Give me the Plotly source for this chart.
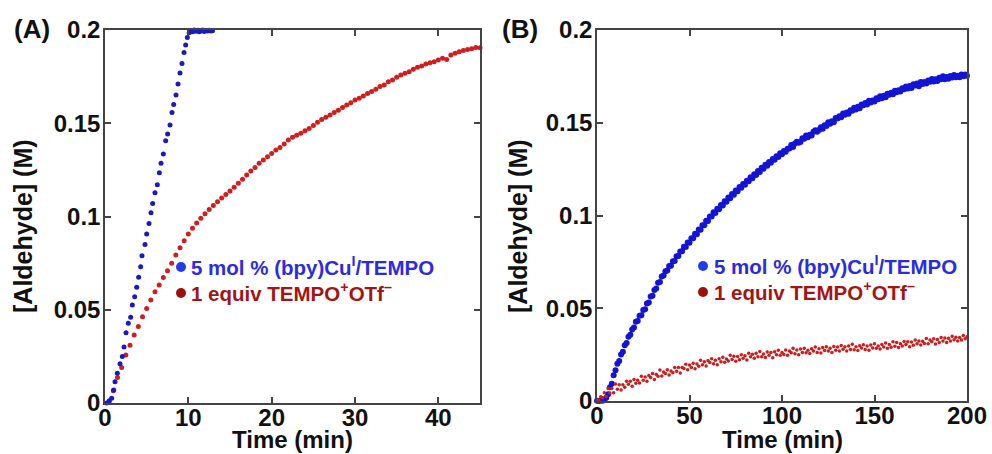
import plotly.graph_objects as go

# ---------------- data ----------------
# Panel A: aldehyde formation, first 45 min
TIME_A_CU = [0.2, 0.5, 0.8, 1.04, 1.2, 1.48, 1.8, 2.08, 2.28, 2.52, 2.8, 3.08, 3.28, 3.56, 3.8,
             4.04, 4.28, 4.44, 4.8, 5.0, 5.28, 5.52, 5.72, 6.0, 6.28, 6.52, 6.72, 7.0, 7.28,
             7.52, 7.8, 8.04, 8.24, 8.52, 8.76, 9.0, 9.24, 9.48, 9.68, 9.88, 10.1, 10.3, 10.5,
             10.7, 10.9, 11.1, 11.3, 11.5, 11.7, 11.9, 12.1, 12.3, 12.5, 12.7, 12.9]
ALD_A_CU = [0.0, 0.0012, 0.0025, 0.0070, 0.0114, 0.0160, 0.0210, 0.0250, 0.0300, 0.0377,
            0.0427, 0.0460, 0.0525, 0.0570, 0.0620, 0.0674, 0.0730, 0.0790, 0.0850, 0.0906,
            0.0963, 0.1020, 0.1070, 0.1128, 0.1170, 0.1235, 0.1285, 0.1335, 0.1406, 0.1442,
            0.1490, 0.1557, 0.1600, 0.1652, 0.1710, 0.1770, 0.1820, 0.1880, 0.1920, 0.1960,
            0.1985, 0.1995, 0.1990, 0.2000, 0.1993, 0.1998, 0.1990, 0.1995, 0.2000, 0.1992,
            0.1997, 0.1994, 0.1999, 0.1995, 0.1996]

TIME_A_OX = [0.5, 1.0, 1.5, 2.0, 2.5, 3.0, 3.5, 4.0, 4.5, 5.0, 5.5, 6.0, 6.5, 7.0, 7.5, 8.0,
             8.5, 9.0, 9.5, 10.0, 10.5, 11.0, 11.5, 12.0, 12.5, 13.0, 13.5, 14.0, 14.5, 15.0,
             15.5, 16.0, 16.5, 17.0, 17.5, 18.0, 18.5, 19.0, 19.5, 20.0, 20.5, 21.0, 21.5,
             22.0, 22.5, 23.0, 23.5, 24.0, 24.5, 25.0, 25.5, 26.0, 26.5, 27.0, 27.5, 28.0,
             28.5, 29.0, 29.5, 30.0, 30.5, 31.0, 31.5, 32.0, 32.5, 33.0, 33.5, 34.0, 34.5,
             35.0, 35.5, 36.0, 36.5, 37.0, 37.5, 38.0, 38.5, 39.0, 39.5, 40.0, 40.5, 41.0,
             41.5, 42.0, 42.5, 43.0, 43.5, 44.0, 44.5, 45.0]
ALD_A_OX = [0.0007, 0.0066, 0.0137, 0.0190, 0.0257, 0.0310, 0.0365, 0.0410, 0.0462, 0.0507,
            0.0552, 0.0597, 0.0633, 0.0673, 0.0709, 0.0749, 0.0794, 0.0833, 0.0870, 0.0906,
            0.0937, 0.0965, 0.0991, 0.1015, 0.1038, 0.1059, 0.1079, 0.1099, 0.1118, 0.1137,
            0.1157, 0.1178, 0.1200, 0.1222, 0.1244, 0.1263, 0.1285, 0.1303, 0.1320, 0.1338,
            0.1356, 0.1370, 0.1389, 0.1410, 0.1425, 0.1435, 0.1447, 0.1460, 0.1472, 0.1488,
            0.1505, 0.1520, 0.1532, 0.1544, 0.1557, 0.1570, 0.1585, 0.1598, 0.1610, 0.1625,
            0.1634, 0.1646, 0.1660, 0.1670, 0.1682, 0.1697, 0.1705, 0.1723, 0.1732, 0.1746,
            0.1759, 0.1768, 0.1776, 0.1790, 0.1800, 0.1807, 0.1818, 0.1825, 0.1830, 0.1839,
            0.1848, 0.1842, 0.1866, 0.1875, 0.1884, 0.1890, 0.1896, 0.1900, 0.1906, 0.1905]

# Panel B: 200 min runs, one reading per minute
TIME_B = list(range(0, 201))
ALD_B_CU = [
    0.0002, 0.0000, 0.0003, 0.0001, 0.0006, 0.0018, 0.0036, 0.0074, 0.0093, 0.0139,
    0.0166, 0.0201, 0.0216, 0.0251, 0.0266, 0.0301, 0.0313, 0.0346, 0.0357, 0.0386,
    0.0396, 0.0427, 0.0431, 0.0459, 0.0462, 0.0490, 0.0495, 0.0525, 0.0531, 0.0563,
    0.0568, 0.0598, 0.0606, 0.0637, 0.0641, 0.0671, 0.0676, 0.0700, 0.0703, 0.0728,
    0.0729, 0.0754, 0.0755, 0.0780, 0.0781, 0.0806, 0.0807, 0.0831, 0.0830, 0.0855,
    0.0853, 0.0878, 0.0877, 0.0901, 0.0899, 0.0925, 0.0923, 0.0948, 0.0947, 0.0972,
    0.0971, 0.0995, 0.0994, 0.1017, 0.1014, 0.1037, 0.1034, 0.1057, 0.1054, 0.1077,
    0.1074, 0.1097, 0.1093, 0.1116, 0.1112, 0.1135, 0.1131, 0.1153, 0.1149, 0.1170,
    0.1166, 0.1188, 0.1184, 0.1206, 0.1201, 0.1223, 0.1218, 0.1240, 0.1235, 0.1257,
    0.1252, 0.1273, 0.1268, 0.1289, 0.1284, 0.1305, 0.1300, 0.1320, 0.1315, 0.1335,
    0.1330, 0.1348, 0.1344, 0.1360, 0.1361, 0.1380, 0.1369, 0.1388, 0.1397, 0.1392,
    0.1396, 0.1417, 0.1414, 0.1431, 0.1422, 0.1435, 0.1431, 0.1451, 0.1460, 0.1451,
    0.1461, 0.1476, 0.1468, 0.1486, 0.1483, 0.1503, 0.1494, 0.1508, 0.1503, 0.1525,
    0.1523, 0.1535, 0.1529, 0.1550, 0.1543, 0.1555, 0.1549, 0.1568, 0.1565, 0.1581,
    0.1571, 0.1586, 0.1578, 0.1599, 0.1594, 0.1606, 0.1599, 0.1618, 0.1609, 0.1620,
    0.1614, 0.1632, 0.1627, 0.1643, 0.1632, 0.1645, 0.1637, 0.1657, 0.1651, 0.1662,
    0.1654, 0.1673, 0.1665, 0.1675, 0.1668, 0.1686, 0.1680, 0.1696, 0.1684, 0.1698,
    0.1688, 0.1707, 0.1701, 0.1711, 0.1697, 0.1720, 0.1709, 0.1720, 0.1712, 0.1728,
    0.1721, 0.1736, 0.1723, 0.1735, 0.1725, 0.1742, 0.1735, 0.1751, 0.1735, 0.1746,
    0.1737, 0.1752, 0.1744, 0.1757, 0.1745, 0.1753, 0.1745, 0.1760, 0.1751, 0.1760,
    0.1754,
]
ALD_B_OX = [
    0.0008, 0.0006, 0.0023, 0.0017, 0.0045, 0.0024, 0.0067, 0.0043, 0.0067, 0.0044,
    0.0091, 0.0063, 0.0088, 0.0059, 0.0088, 0.0074, 0.0107, 0.0090, 0.0106, 0.0079,
    0.0116, 0.0096, 0.0112, 0.0097, 0.0134, 0.0112, 0.0129, 0.0107, 0.0138, 0.0127,
    0.0148, 0.0116, 0.0144, 0.0133, 0.0167, 0.0135, 0.0157, 0.0148, 0.0169, 0.0140,
    0.0162, 0.0152, 0.0181, 0.0161, 0.0180, 0.0151, 0.0181, 0.0175, 0.0198, 0.0169,
    0.0194, 0.0180, 0.0203, 0.0174, 0.0199, 0.0187, 0.0220, 0.0196, 0.0211, 0.0189,
    0.0219, 0.0207, 0.0228, 0.0201, 0.0220, 0.0196, 0.0228, 0.0212, 0.0236, 0.0209,
    0.0227, 0.0216, 0.0246, 0.0224, 0.0241, 0.0214, 0.0240, 0.0223, 0.0250, 0.0231,
    0.0244, 0.0221, 0.0257, 0.0239, 0.0252, 0.0230, 0.0257, 0.0238, 0.0267, 0.0238,
    0.0253, 0.0234, 0.0264, 0.0247, 0.0261, 0.0233, 0.0265, 0.0249, 0.0274, 0.0246,
    0.0262, 0.0251, 0.0275, 0.0247, 0.0269, 0.0260, 0.0284, 0.0255, 0.0275, 0.0249,
    0.0280, 0.0262, 0.0284, 0.0260, 0.0274, 0.0256, 0.0281, 0.0269, 0.0291, 0.0262,
    0.0282, 0.0259, 0.0288, 0.0272, 0.0292, 0.0269, 0.0285, 0.0261, 0.0294, 0.0274,
    0.0291, 0.0269, 0.0299, 0.0279, 0.0292, 0.0270, 0.0297, 0.0278, 0.0306, 0.0276,
    0.0292, 0.0272, 0.0298, 0.0286, 0.0303, 0.0278, 0.0297, 0.0273, 0.0302, 0.0286,
    0.0309, 0.0284, 0.0297, 0.0280, 0.0304, 0.0291, 0.0312, 0.0285, 0.0305, 0.0290,
    0.0320, 0.0295, 0.0315, 0.0288, 0.0308, 0.0297, 0.0321, 0.0304, 0.0319, 0.0292,
    0.0318, 0.0301, 0.0329, 0.0308, 0.0324, 0.0302, 0.0322, 0.0310, 0.0337, 0.0308,
    0.0329, 0.0319, 0.0336, 0.0307, 0.0331, 0.0316, 0.0342, 0.0323, 0.0340, 0.0316,
    0.0338, 0.0324, 0.0349, 0.0330, 0.0344, 0.0324, 0.0342, 0.0329, 0.0353, 0.0335,
    0.0347,
]

Y_TICKS = [0, 0.05, 0.1, 0.15, 0.2]
Y_TICK_TEXT = ["0", "0.05", "0.1", "0.15", "0.2"]
X_TICKS_A = [0, 10, 20, 30, 40]
X_TICKS_B = [0, 50, 100, 150, 200]
LABEL_CU = "5 mol % (bpy)Cu<sup>I</sup>/TEMPO"
LABEL_OX = "1 equiv TEMPO<sup>+</sup>OTf<sup>\u2013</sup>"

# ---------------- styling ----------------
W, H = 992, 454
FONT = "Liberation Sans, Arial, Helvetica, sans-serif"
BLUE_DOT = "#1a1ac4"
RED_DOT = "#d01e1e"
BLUE_TXT = "#2b2be6"
RED_TXT = "#a51414"
AXIS_COL = "#444444"


def fx(p):
    return p / W


def fy(p):
    return 1 - p / H


fig = go.Figure()

fig.add_trace(go.Scatter(x=TIME_A_OX, y=ALD_A_OX, mode="markers", xaxis="x", yaxis="y",
                         marker=dict(size=5, color=RED_DOT, line=dict(width=0)),
                         cliponaxis=False, showlegend=False))
fig.add_trace(go.Scatter(x=TIME_A_CU, y=ALD_A_CU, mode="markers", xaxis="x", yaxis="y",
                         marker=dict(size=5, color=BLUE_DOT, line=dict(width=0)),
                         cliponaxis=False, showlegend=False))
fig.add_trace(go.Scatter(x=TIME_B, y=ALD_B_CU, mode="markers", xaxis="x2", yaxis="y2",
                         marker=dict(size=6, color="#1414d6", line=dict(width=0)),
                         cliponaxis=False, showlegend=False))
fig.add_trace(go.Scatter(x=TIME_B, y=ALD_B_OX, mode="markers", xaxis="x2", yaxis="y2",
                         marker=dict(size=3.5, color="#cc1c1c", line=dict(width=0)),
                         cliponaxis=False, showlegend=False))

tickfont = dict(family=FONT, size=24, color="#111111", weight="bold")
common = dict(showline=True, linecolor=AXIS_COL, linewidth=1.5, mirror="ticks",
              ticks="inside", ticklen=6, tickwidth=1.5, tickcolor=AXIS_COL,
              showgrid=False, zeroline=False, tickfont=tickfont, fixedrange=True,
              automargin=False)

fig.update_layout(
    width=W, height=H,
    margin=dict(l=0, r=0, t=0, b=0),
    paper_bgcolor="white", plot_bgcolor="white",
    xaxis=dict(domain=[fx(105), fx(480)], range=[0, 45], tickvals=X_TICKS_A,
               anchor="y", ticklabelstandoff=-8, **common),
    yaxis=dict(domain=[fy(403), fy(30)], range=[0, 0.2], tickvals=Y_TICKS,
               ticktext=Y_TICK_TEXT, anchor="x", ticklabelstandoff=-2, **common),
    xaxis2=dict(domain=[fx(597), fx(967)], range=[0, 200], tickvals=X_TICKS_B,
                anchor="y2", ticklabelstandoff=-8, **common),
    yaxis2=dict(domain=[fy(401), fy(30)], range=[0, 0.2], tickvals=Y_TICKS,
                ticktext=Y_TICK_TEXT, anchor="x2", ticklabelstandoff=-2, **common),
)

annotations = []


def text(x, y, s, size=24, color="#111111", angle=0, xanchor="center"):
    annotations.append(dict(x=fx(x), y=fy(y), xref="paper", yref="paper", text=s,
                            showarrow=False, textangle=angle, xanchor=xanchor,
                            yanchor="middle",
                            font=dict(family=FONT, size=size, color=color, weight="bold")))


# panel letters
text(32, 29, "(A)", size=26)
text(520, 29, "(B)", size=26)
# axis titles
text(292, 439, "Time (min)")
text(782, 439, "Time (min)")
text(23, 226, "[Aldehyde] (M)", size=25, angle=-90)
text(518, 226, "[Aldehyde] (M)", size=25, angle=-90)
# series keys
text(189, 266, LABEL_CU, size=20.5, color=BLUE_TXT, xanchor="left")
text(189, 292, LABEL_OX, size=20.5, color=RED_TXT, xanchor="left")
text(712, 265, LABEL_CU, size=20.5, color=BLUE_TXT, xanchor="left")
text(712, 291, LABEL_OX, size=20.5, color=RED_TXT, xanchor="left")

shapes = []
for cx, cy, col in [(181, 267, "#1f3cf0"), (181, 293, "#9e1010"),
                    (703, 266, "#1f3cf0"), (703, 292, "#9e1010")]:
    r = 5
    shapes.append(dict(type="circle", xref="paper", yref="paper",
                       x0=fx(cx - r), x1=fx(cx + r), y0=fy(cy + r), y1=fy(cy - r),
                       fillcolor=col, line=dict(width=0)))

fig.update_layout(annotations=annotations, shapes=shapes)

fig.write_html("out.html")
